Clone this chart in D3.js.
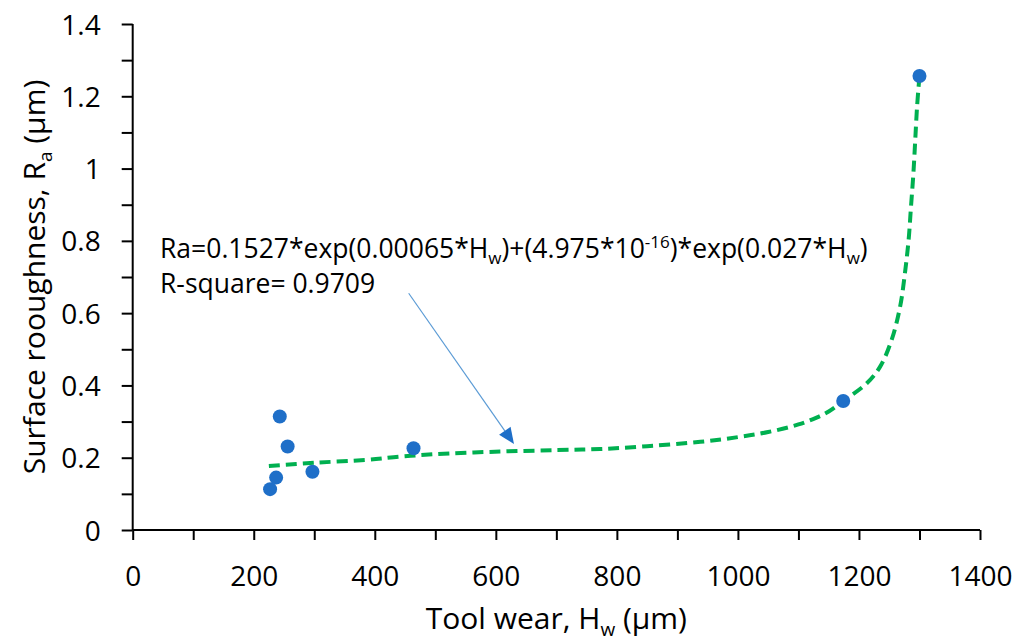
<!DOCTYPE html>
<html>
<head>
<meta charset="utf-8">
<script src="https://cdn.jsdelivr.net/npm/d3@7"></script>
<style>
  html, body { margin: 0; padding: 0; background: #fff; }
  svg { display: block; }
  text { font-family: "Open Sans", "Noto Sans", sans-serif; fill: #000; }
</style>
</head>
<body>
<svg id="chart" width="1029" height="644"></svg>
<script>
// Measured tool wear (µm) and surface roughness Ra (µm)
const wear = [227, 237, 243, 256, 297, 464, 1174, 1300];
const roughness = [0.113, 0.145, 0.314, 0.231, 0.161, 0.226, 0.357, 1.256];

// Fitted trend line, sampled along the curve
const fitWear = [225, 300, 386, 442, 500, 607, 700, 772, 850, 938, 1000, 1050, 1100, 1130, 1150, 1174, 1213, 1235, 1254, 1268, 1276, 1282, 1286, 1290, 1293, 1296, 1300];
const fitRa = [0.177, 0.186, 0.194, 0.203, 0.210, 0.217, 0.221, 0.224, 0.232, 0.244, 0.257, 0.271, 0.292, 0.311, 0.328, 0.357, 0.406, 0.452, 0.526, 0.618, 0.711, 0.802, 0.895, 0.988, 1.079, 1.171, 1.256];

// Axis ticks
const xMajor = [0, 200, 400, 600, 800, 1000, 1200, 1400];
const xMinor = [100, 300, 500, 700, 900, 1100, 1300];
const yMajor = [0, 0.2, 0.4, 0.6, 0.8, 1.0, 1.2, 1.4];
const yMinor = [0.1, 0.3, 0.5, 0.7, 0.9, 1.1, 1.3];
const yLabels = ["0", "0.2", "0.4", "0.6", "0.8", "1", "1.2", "1.4"];

// Annotation arrow (start and tip in data units)
const arrowFrom = [456, 0.655];
const arrowTo = [630, 0.238];

const svg = d3.select("#chart");
const x = d3.scaleLinear().domain([0, 1400]).range([132.7, 980]);
const y = d3.scaleLinear().domain([0, 1.4]).range([530, 24]);

// Axes
const gx = svg.append("g").attr("transform", `translate(0,${y(0)})`);
gx.call(d3.axisBottom(x).tickValues(xMajor.concat(xMinor).sort((a, b) => a - b))
  .tickSize(10).tickPadding(26).tickFormat(d => xMajor.includes(d) ? d3.format("d")(d) : ""));
const gy = svg.append("g").attr("transform", `translate(${x(0)},0)`);
gy.call(d3.axisLeft(y).tickValues(yMajor.concat(yMinor).sort((a, b) => a - b))
  .tickSize(11).tickPadding(21).tickFormat(d => {
    const i = yMajor.findIndex(v => Math.abs(v - d) < 1e-9);
    return i >= 0 ? yLabels[i] : "";
  }));
[gx, gy].forEach(g => {
  g.select(".domain").attr("stroke", "#000").attr("stroke-width", 2);
  g.selectAll(".tick line").attr("stroke", "#000").attr("stroke-width", 2);
  g.selectAll(".tick text").attr("font-size", 28).attr("font-family", "Open Sans").attr("fill", "#000");
});
gx.selectAll(".domain").attr("d", `M${x(0)},0H${x(1400)}`);
gy.selectAll(".domain").attr("d", `M0,${y(1.4)}V${y(0)}`);
gy.selectAll(".tick text").attr("dy", "0.36em");
gx.selectAll(".tick text").attr("dy", "0.72em");

// Fitted curve
const line = d3.line().x((d, i) => x(fitWear[i])).y((d, i) => y(fitRa[i])).curve(d3.curveCatmullRom.alpha(0.5));
svg.append("path").datum(fitWear).attr("d", line)
  .attr("fill", "none").attr("stroke", "#00b050").attr("stroke-width", 4)
  .attr("stroke-dasharray", "11,6");

// Measured points
svg.append("g").selectAll("circle").data(wear).join("circle")
  .attr("cx", d => x(d)).attr("cy", (d, i) => y(roughness[i])).attr("r", 7)
  .attr("fill", "#1f6fc8");

// Arrow
const ax0 = x(arrowFrom[0]), ay0 = y(arrowFrom[1]), ax1 = x(arrowTo[0]), ay1 = y(arrowTo[1]);
const ang = Math.atan2(ay1 - ay0, ax1 - ax0);
const headLen = 16, headHalf = 7;
const bx = ax1 - headLen * Math.cos(ang), by = ay1 - headLen * Math.sin(ang);
svg.append("line").attr("x1", ax0).attr("y1", ay0).attr("x2", bx).attr("y2", by)
  .attr("stroke", "#5b9bd5").attr("stroke-width", 1.2);
svg.append("path")
  .attr("d", `M${ax1},${ay1}L${bx - headHalf * Math.sin(ang)},${by + headHalf * Math.cos(ang)}L${bx + headHalf * Math.sin(ang)},${by - headHalf * Math.cos(ang)}Z`)
  .attr("fill", "#1f6fc8");

// Equation text
const eq = svg.append("text").attr("x", 160).attr("y", 258).attr("font-size", 26.5);
eq.append("tspan").text("Ra=0.1527*exp(0.00065*H");
eq.append("tspan").attr("font-size", 17).attr("dy", 6).text("w");
eq.append("tspan").attr("dy", -6).text(")+(4.975*10");
eq.append("tspan").attr("font-size", 17).attr("dy", -10).text("-16");
eq.append("tspan").attr("dy", 10).text(")*exp(0.027*H");
eq.append("tspan").attr("font-size", 17).attr("dy", 6).text("w");
eq.append("tspan").attr("dy", -6).text(")");
svg.append("text").attr("x", 160).attr("y", 293).attr("font-size", 26.5).text("R-square= 0.9709");

// Axis titles
const xt = svg.append("text").attr("x", (x(0) + x(1400)) / 2).attr("y", 629)
  .attr("text-anchor", "middle").attr("font-size", 30);
xt.append("tspan").text("Tool wear, H");
xt.append("tspan").attr("font-size", 19).attr("dy", 7).text("w");
xt.append("tspan").attr("dy", -7).text(" (µm)");

const yt = svg.append("text")
  .attr("transform", `translate(45,${(y(0) + y(1.4)) / 2}) rotate(-90)`)
  .attr("text-anchor", "middle").attr("font-size", 30);
yt.append("tspan").text("Surface rooughness, R");
yt.append("tspan").attr("font-size", 19).attr("dy", 7).text("a");
yt.append("tspan").attr("dy", -7).text(" (µm)");
</script>
</body>
</html>
